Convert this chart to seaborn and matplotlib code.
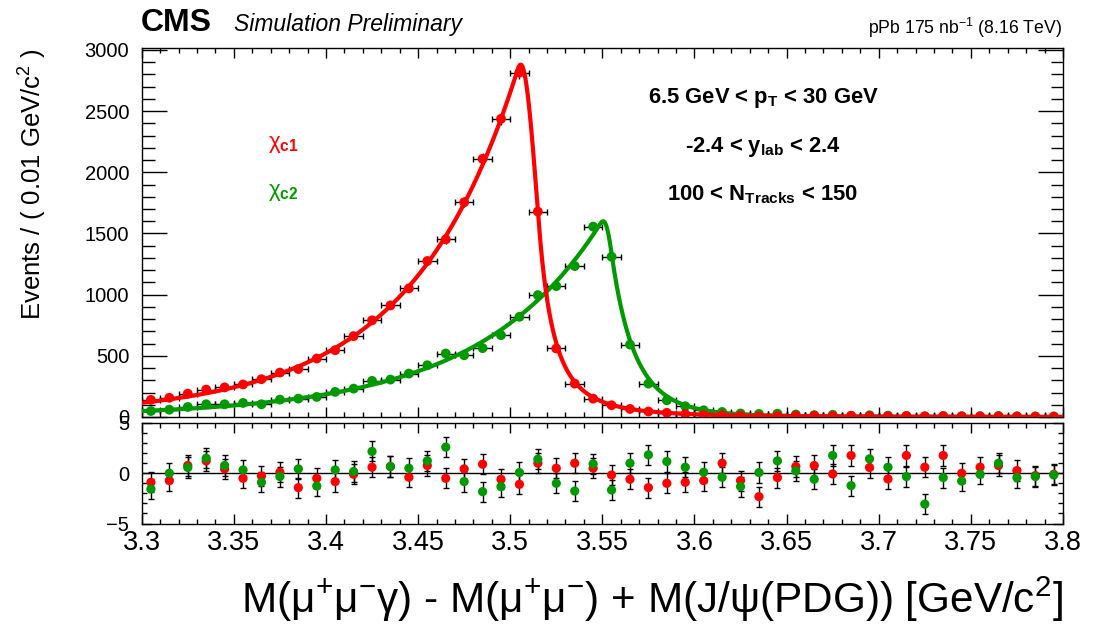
import numpy as np
import matplotlib
matplotlib.use("Agg")
import matplotlib.pyplot as plt
import seaborn as sns
import pandas as pd
from matplotlib.ticker import MultipleLocator, FixedLocator

# ---------------- data ----------------
mass = [3.305, 3.315, 3.325, 3.335, 3.345, 3.355, 3.365, 3.375, 3.385, 3.395,
        3.405, 3.415, 3.425, 3.435, 3.445, 3.455, 3.465, 3.475, 3.485, 3.495,
        3.505, 3.515, 3.525, 3.535, 3.545, 3.555, 3.565, 3.575, 3.585, 3.595,
        3.605, 3.615, 3.625, 3.635, 3.645, 3.655, 3.665, 3.675, 3.685, 3.695,
        3.705, 3.715, 3.725, 3.735, 3.745, 3.755, 3.765, 3.775, 3.785, 3.795]

chic1_events = [140, 157, 191, 224, 242, 266, 309, 363, 392, 478,
                546, 661, 790, 912, 1051, 1275, 1452, 1755, 2110, 2437,
                2815, 1679, 560, 273, 150, 96, 66, 45, 34, 24,
                16, 14, 10, 4, 8, 10, 10, 7, 10, 7,
                5, 8, 6, 7, 4, 4, 4, 3, 2, 2]

chic2_events = [49, 60, 82, 104, 104, 115, 104, 142, 150, 164,
                205, 232, 295, 306, 355, 423, 519, 505, 563, 669,
                819, 996, 1070, 1234, 1556, 1310, 592, 273, 137, 88,
                55, 41, 29, 25, 27, 20, 15, 18, 10, 14,
                11, 9, 4, 8, 7, 7, 9, 6, 5, 5]

chic1_pull = [-0.90, -0.73, 0.77, 1.23, 0.43, -0.50, -0.27, 0.10, -1.43, -0.50,
              -0.83, -0.10, 0.60, 0.67, -0.40, 0.77, -0.50, 0.43, 0.90, -0.60,
              -1.10, 1.00, 0.50, 1.00, 0.50, -0.17, -0.60, -1.43, -1.00, -0.90,
              -0.73, 1.00, -0.73, -2.33, -0.43, 0.67, 0.77, -0.07, 1.77, 0.57,
              -0.57, 1.77, 0.60, 1.77, 0.00, 0.60, 0.77, 0.27, -0.23, -0.10]

chic2_pull = [-1.57, 0.00, 0.57, 1.50, 0.77, 0.33, -0.90, -0.33, 0.43, -1.27,
              0.33, 0.17, 2.17, 0.67, 0.50, 1.23, 2.60, -0.83, -1.83, -1.33,
              0.07, 1.40, -1.00, -1.77, 0.93, -1.67, 1.00, 1.83, 1.17, 0.60,
              0.10, -0.40, -1.33, 0.07, 1.23, 0.23, -0.60, 1.77, -1.23, 1.43,
              0.60, -0.33, -3.07, -0.43, -0.77, -0.10, 1.00, -0.43, -0.33, -0.17]

bin_halfwidth = 0.005

# fitted line shapes (double-sided Crystal Ball parameters)
chic1_fit = dict(N=2880, mu=3.5057, sL=0.010, aL=0.17, nL=20.0, sR=0.009, aR=1.1, nR=2.7)
chic2_fit = dict(N=1600, mu=3.5505, sL=0.010, aL=0.15, nL=25.0, sR=0.0075, aR=0.6, nR=7.0)

RED = "#ff0000"
GREEN = "#009900"


def dscb(x, N, mu, sL, aL, nL, sR, aR, nR):
    left = x < mu
    t = np.where(left, (mu - x) / sL, (x - mu) / sR)
    a = np.where(left, aL, aR)
    n = np.where(left, nL, nR)
    tail = np.exp(-a ** 2 / 2) * ((n / a - a + t) / (n / a)) ** (-n)
    return N * np.where(t < a, np.exp(-t ** 2 / 2), tail)


# ---------------- style ----------------
sns.set_style("ticks")
plt.rcParams["font.family"] = ["Liberation Sans", "DejaVu Sans"]
plt.rcParams["mathtext.fontset"] = "custom"
plt.rcParams["mathtext.rm"] = "Liberation Sans"
plt.rcParams["mathtext.it"] = "Liberation Sans:italic"
plt.rcParams["mathtext.bf"] = "Liberation Sans:bold"
plt.rcParams["mathtext.sf"] = "Liberation Sans"
plt.rcParams["axes.linewidth"] = 1.0
for key in ("text.color", "axes.labelcolor", "xtick.color", "ytick.color",
            "axes.edgecolor"):
    plt.rcParams[key] = "black"

W, H = 1107, 628
fig = plt.figure(figsize=(W / 100, H / 100), dpi=100)


def fx(px):
    return px / W


def fy(py):
    return 1 - py / H


X0, X1 = 141.7, 1063.0
ax1 = fig.add_axes([fx(X0), fy(417), fx(X1 - X0), (417 - 48) / H])
ax2 = fig.add_axes([fx(X0), fy(523.5), fx(X1 - X0), (523.5 - 423) / H])

df = pd.DataFrame({"mass": mass, "chic1": chic1_events, "chic2": chic2_events,
                   "pull1": chic1_pull, "pull2": chic2_pull})

xfine = np.linspace(3.3, 3.8, 2001)
curve = pd.DataFrame({"x": xfine,
                      "chic1": dscb(xfine, **chic1_fit),
                      "chic2": dscb(xfine, **chic2_fit)})

# ---- upper panel ----
for col, c in (("chic2", GREEN), ("chic1", RED)):
    ax1.errorbar(df["mass"], df[col], xerr=bin_halfwidth, fmt="none",
                 ecolor="black", elinewidth=1.0, capsize=2.5, capthick=1.0, zorder=2)
    ax1.errorbar(df["mass"], df[col], yerr=np.sqrt(df[col]), fmt="none",
                 ecolor="black", elinewidth=1.0, capsize=0, zorder=2)
for col, c in (("chic2", GREEN), ("chic1", RED)):
    sns.lineplot(data=curve, x="x", y=col, color=c, lw=3.0, ax=ax1, zorder=3)
for col, c in (("chic2", GREEN), ("chic1", RED)):
    sns.scatterplot(data=df, x="mass", y=col, color=c, s=50, edgecolor="none",
                    ax=ax1, zorder=4)

ax1.set_xlim(3.3, 3.8)
ax1.set_ylim(0, 3016)
ax1.xaxis.set_major_locator(MultipleLocator(0.05))
ax1.xaxis.set_minor_locator(MultipleLocator(0.01))
ax1.yaxis.set_major_locator(MultipleLocator(500))
ax1.yaxis.set_minor_locator(MultipleLocator(100))
ax1.tick_params(axis="x", which="major", direction="in", length=7, width=1,
                top=True, bottom=True, labelbottom=False)
ax1.tick_params(axis="x", which="minor", direction="in", length=3.6, width=1,
                top=True, bottom=True)
ax1.tick_params(axis="y", which="major", direction="in", length=18, width=1,
                left=True, right=True, labelsize=14.5, pad=9)
ax1.tick_params(axis="y", which="minor", direction="in", length=9, width=1,
                left=True, right=True)
ax1.set_xlabel("")
ax1.set_ylabel("Events / ( 0.01 GeV/c$^{2}$ )", fontsize=18.5, loc="top")
ax1.yaxis.set_label_coords((33 - X0) / (X1 - X0), 1.0)
ax1.yaxis.label.set_va("center")

# ---- pull panel ----
ax2.axhline(0, color="black", lw=1.0, zorder=1)
for col, c in (("pull1", RED), ("pull2", GREEN)):
    ax2.errorbar(df["mass"], df[col], yerr=1.0, fmt="none", ecolor="black",
                 elinewidth=1.0, capsize=2.5, capthick=1.0, zorder=2)
for col, c in (("pull1", RED), ("pull2", GREEN)):
    sns.scatterplot(data=df, x="mass", y=col, color=c, s=44, edgecolor="none",
                    ax=ax2, zorder=3)
ax2.set_xlim(3.3, 3.8)
ax2.set_ylim(-5, 5)
ax2.xaxis.set_major_locator(MultipleLocator(0.05))
ax2.xaxis.set_minor_locator(MultipleLocator(0.01))
ax2.yaxis.set_major_locator(FixedLocator([-5, 0, 5]))
ax2.yaxis.set_minor_locator(MultipleLocator(1))
ax2.tick_params(axis="x", which="major", direction="in", length=7, width=1,
                top=True, bottom=True, labelsize=19.5, pad=5)
ax2.tick_params(axis="x", which="minor", direction="in", length=3.6, width=1,
                top=True, bottom=True)
ax2.tick_params(axis="y", which="major", direction="in", length=7, width=1,
                left=True, right=True, labelsize=14.5, pad=9)
ax2.tick_params(axis="y", which="minor", direction="in", length=3.6, width=1,
                left=True, right=True)
ax2.xaxis.set_major_formatter(matplotlib.ticker.FuncFormatter(lambda v, p: f"{v:g}"))
ax2.set_ylabel("")
ax2.set_xlabel("M(μ$^{+}$μ$^{-}$γ) - M(μ$^{+}$μ$^{-}$) + M(J/ψ(PDG)) [GeV/c$^{2}$]",
               fontsize=30.4, loc="right")
ax2.xaxis.set_label_coords(1.0, -(613 - 523.5) / (523.5 - 423))
ax2.xaxis.label.set_va("baseline")

# ---- texts ----
fig.text(fx(141), fy(31), "CMS", fontsize=23, fontweight="bold", ha="left", va="baseline")
fig.text(fx(234), fy(31), "Simulation Preliminary", fontsize=16.5, style="italic",
         ha="left", va="baseline")
fig.text(fx(1062), fy(34), "pPb 175 nb$^{-1}$ (8.16 TeV)", fontsize=12.7,
         ha="right", va="baseline")

ann_kw = dict(fontsize=15.8, fontweight="bold", ha="center", va="baseline")
fig.text(fx(763), fy(103), r"6.5 GeV < $\mathbf{p_{T}}$ < 30 GeV", **ann_kw)
fig.text(fx(763), fy(151.7), r"-2.4 < $\mathbf{y_{lab}}$ < 2.4", **ann_kw)
fig.text(fx(763), fy(200), r"100 < $\mathbf{N_{Tracks}}$ < 150", **ann_kw)

fig.text(fx(268), fy(148), r"χ$_{\mathbf{c1}}$", fontsize=16, color=RED,
         ha="left", va="baseline")
fig.text(fx(268), fy(196), r"χ$_{\mathbf{c2}}$", fontsize=16, color=GREEN,
         ha="left", va="baseline")

fig.savefig("out.png", dpi=100)
